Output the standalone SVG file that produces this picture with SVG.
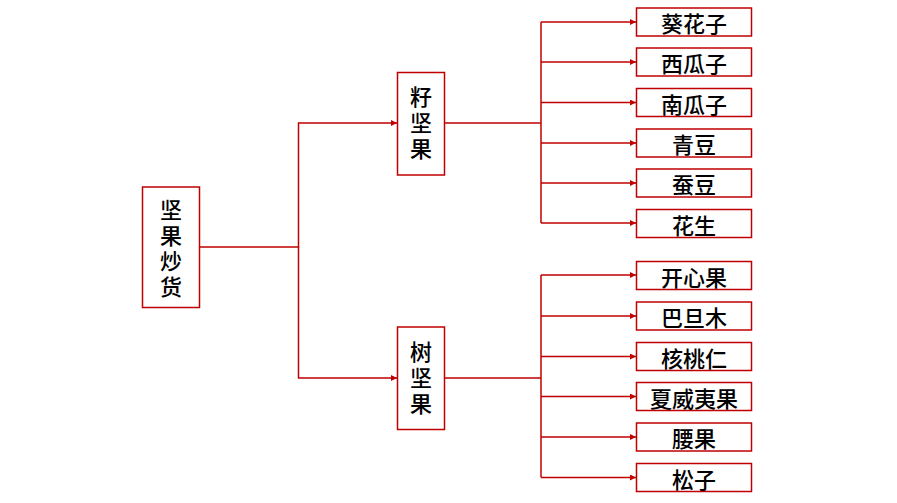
<svg xmlns="http://www.w3.org/2000/svg" width="897" height="503" viewBox="0 0 897 503">
<style>
.box{fill:#fff;stroke:#c00000;stroke-width:1.5}
.t{font-family:"Noto Sans CJK SC","Noto Sans",sans-serif;font-size:22px;fill:#000;text-anchor:middle;dominant-baseline:central;font-weight:500}
.v{writing-mode:vertical-rl;text-orientation:upright}
.c{fill:none;stroke:#c00000;stroke-width:1.5}
</style>
<defs>
<marker id="ah" viewBox="0 0 10 10" refX="10" refY="5" markerWidth="6" markerHeight="6" markerUnits="userSpaceOnUse" orient="auto">
<path d="M0,0 L10,5 L0,10 z" fill="#c00000"/>
</marker>
</defs>
<rect width="897" height="503" fill="#fff"/>
<g id="connectors">
<path class="c" d="M199,247 H298.5 V123 H397" marker-end="url(#ah)"/>
<path class="c" d="M298.5,247 V378 H397" marker-end="url(#ah)"/>
<path class="c" d="M445,123 H541"/>
<path class="c" d="M541,22 V223"/>
<path class="c" d="M541,22 H636" marker-end="url(#ah)"/>
<path class="c" d="M541,62 H636" marker-end="url(#ah)"/>
<path class="c" d="M541,102.5 H636" marker-end="url(#ah)"/>
<path class="c" d="M541,143 H636" marker-end="url(#ah)"/>
<path class="c" d="M541,183 H636" marker-end="url(#ah)"/>
<path class="c" d="M541,223 H636" marker-end="url(#ah)"/>
<path class="c" d="M445,378 H541"/>
<path class="c" d="M541,275 V477.5"/>
<path class="c" d="M541,275 H636" marker-end="url(#ah)"/>
<path class="c" d="M541,316 H636" marker-end="url(#ah)"/>
<path class="c" d="M541,356.5 H636" marker-end="url(#ah)"/>
<path class="c" d="M541,396.5 H636" marker-end="url(#ah)"/>
<path class="c" d="M541,437 H636" marker-end="url(#ah)"/>
<path class="c" d="M541,477.5 H636" marker-end="url(#ah)"/>
</g>
<g id="root"><rect class="box" x="142.5" y="187" width="57" height="120.5"/>
<text class="t v" x="171" y="250" letter-spacing="3.5">坚果炒货</text></g>
<g id="seed"><rect class="box" x="397.5" y="72.5" width="47" height="102.5"/>
<text class="t v" x="421" y="125" letter-spacing="4">籽坚果</text></g>
<g id="tree"><rect class="box" x="397.5" y="327" width="47" height="102.5"/>
<text class="t v" x="421" y="380" letter-spacing="4">树坚果</text></g>
<g id="l1"><rect class="box" x="636.5" y="8" width="115" height="28"/><text class="t" x="694" y="22">葵花子</text></g>
<g id="l2"><rect class="box" x="636.5" y="48" width="115" height="28"/><text class="t" x="694" y="62">西瓜子</text></g>
<g id="l3"><rect class="box" x="636.5" y="88.5" width="115" height="28"/><text class="t" x="694" y="102.5">南瓜子</text></g>
<g id="l4"><rect class="box" x="636.5" y="129" width="115" height="28"/><text class="t" x="694" y="143">青豆</text></g>
<g id="l5"><rect class="box" x="636.5" y="169" width="115" height="28"/><text class="t" x="694" y="183">蚕豆</text></g>
<g id="l6"><rect class="box" x="636.5" y="209.5" width="115" height="28"/><text class="t" x="694" y="223.5">花生</text></g>
<g id="l7"><rect class="box" x="636.5" y="261.5" width="115" height="28"/><text class="t" x="694" y="275.5">开心果</text></g>
<g id="l8"><rect class="box" x="636.5" y="302" width="115" height="28"/><text class="t" x="694" y="316">巴旦木</text></g>
<g id="l9"><rect class="box" x="636.5" y="342.5" width="115" height="28"/><text class="t" x="694" y="356.5">核桃仁</text></g>
<g id="l10"><rect class="box" x="636.5" y="382.5" width="115" height="28"/><text class="t" x="694" y="396.5">夏威夷果</text></g>
<g id="l11"><rect class="box" x="636.5" y="423" width="115" height="28"/><text class="t" x="694" y="437">腰果</text></g>
<g id="l12"><rect class="box" x="636.5" y="463.5" width="115" height="28"/><text class="t" x="694" y="477.5">松子</text></g>
</svg>
